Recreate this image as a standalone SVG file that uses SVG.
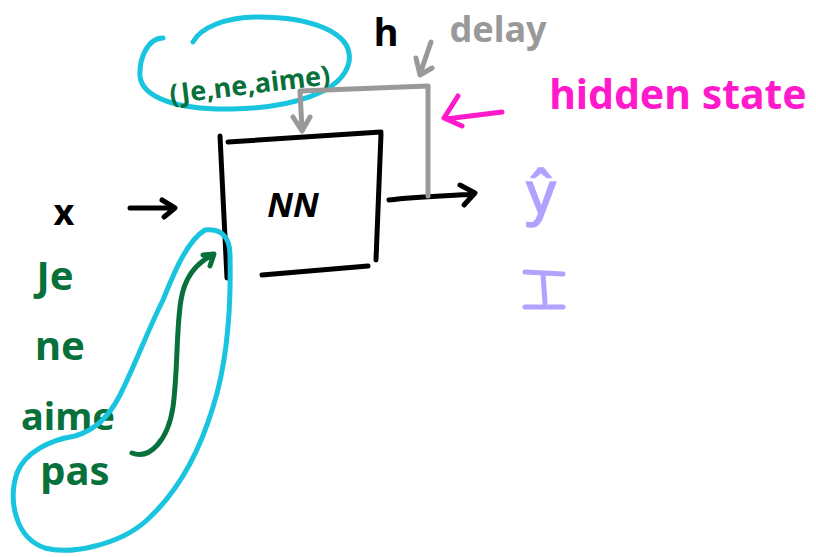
<svg xmlns="http://www.w3.org/2000/svg" width="816" height="557" viewBox="0 0 816 557">
  <style>
    .ink { fill: none; stroke-width: 5; stroke-linecap: round; stroke-linejoin: round; }
    .black { stroke: #000; }
    .grey { stroke: #999; }
    .pink { stroke: #ff1acb; }
    .green { stroke: #08703a; }
    .cyan { stroke: #18c4de; }
    .lbl { font-family: "Noto Sans", "DejaVu Sans", sans-serif; }
    .gtxt { fill: #08703a; }
  </style>
  <rect width="816" height="557" fill="#fff"/>

  <!-- network block -->
  <g id="nn">
    <path class="ink black" d="M220,136 L227,278"/>
    <path class="ink black" d="M228,142 L381,132"/>
    <path class="ink black" d="M381,134 L376,260"/>
    <path class="ink black" d="M262,275 L368,266"/>
    <text class="lbl" x="293" y="217" font-size="34" font-weight="bold" font-style="italic" text-anchor="middle" fill="#000">NN</text>
  </g>

  <!-- input x -->
  <g id="x-input">
    <text class="lbl" x="64" y="225" font-size="36" font-weight="bold" text-anchor="middle" fill="#000">x</text>
  </g>

  <!-- hidden state label -->
  <g id="h-label">
    <text class="lbl" x="386" y="46" font-size="38" font-weight="bold" text-anchor="middle" fill="#000">h</text>
  </g>
  <g id="delay-label">
    <text class="lbl" x="498" y="42" font-size="36" font-weight="bold" text-anchor="middle" fill="#999">delay</text>
  </g>
  <g id="hidden-state-label">
    <text class="lbl" x="678" y="109" font-size="41" font-weight="bold" text-anchor="middle" fill="#ff1acb">hidden state</text>
  </g>

  <!-- outputs -->
  <g id="y-hat">
    <text class="lbl" x="541" y="213" font-size="58" fill="#b0a2ff" stroke="#b0a2ff" stroke-width="1.5" text-anchor="middle">ŷ</text>
  </g>
  <g id="i-out">
    <path class="ink" stroke="#b0a2ff" d="M525,272 L563,274 M543,274 L545,303 M525,307 L563,307"/>
  </g>

  <!-- input words -->
  <g id="words">
    <text class="lbl gtxt" x="55" y="290" font-size="40" font-weight="bold" text-anchor="middle">Je</text>
    <text class="lbl gtxt" x="60" y="360" font-size="40" font-weight="bold" text-anchor="middle">ne</text>
    <text class="lbl gtxt" x="68" y="430" font-size="38" font-weight="bold" text-anchor="middle">aime</text>
    <text class="lbl gtxt" x="75" y="485" font-size="40" font-weight="bold" text-anchor="middle">pas</text>
  </g>

  <!-- context tuple -->
  <g id="context">
    <path class="ink cyan" d="M163,38 C148,38 139,58 140,76 C142,98 178,110 232,109 C292,108 343,92 349,62 C354,32 310,17 258,17 C225,17 200,28 193,42"/>
    <text class="lbl gtxt" x="250" y="94" font-size="27" font-weight="bold" text-anchor="middle" transform="rotate(-7 250 86)">(Je,ne,aime)</text>
  </g>

  <!-- grouping loop around current word -->
  <g id="loop">
    <path class="ink cyan" d="M205,230 C222,228 230,238 230,255 C231,300 228,360 213,407 C200,450 180,490 147,520 C120,545 70,555 45,548 C15,538 8,500 17,473 C25,452 50,440 75,436 C95,430 108,418 120,395 C135,365 148,330 163,300 C175,270 188,240 205,230 Z"/>
  </g>

  <!-- connectors -->
  <g id="connectors">
    <!-- x into network -->
    <path class="ink black" d="M130,208 L174,208 M162,200 L175,208 L164,217"/>
    <!-- network output -->
    <path class="ink black" d="M389,200 C420,196 450,196 474,194 M460,185 L475,193 L464,205"/>
    <!-- recurrent delay loop -->
    <path class="ink grey" d="M428,196 L428,86 L300,91 L302,130 M293,117 L302,131 L310,117"/>
    <!-- delay pointer -->
    <path class="ink grey" d="M431,42 L420,74 M416,58 L420,75 L432,68"/>
    <!-- hidden state pointer -->
    <path class="ink pink" d="M502,112 L446,119 M458,96 L444,118 L462,126"/>
    <!-- word flowing into network -->
    <path class="ink green" d="M132,453 C150,460 168,440 173,407 C178,370 176,330 181,300 C185,275 198,262 213,255 M203,255 L214,254 L210,266"/>
  </g>
</svg>
